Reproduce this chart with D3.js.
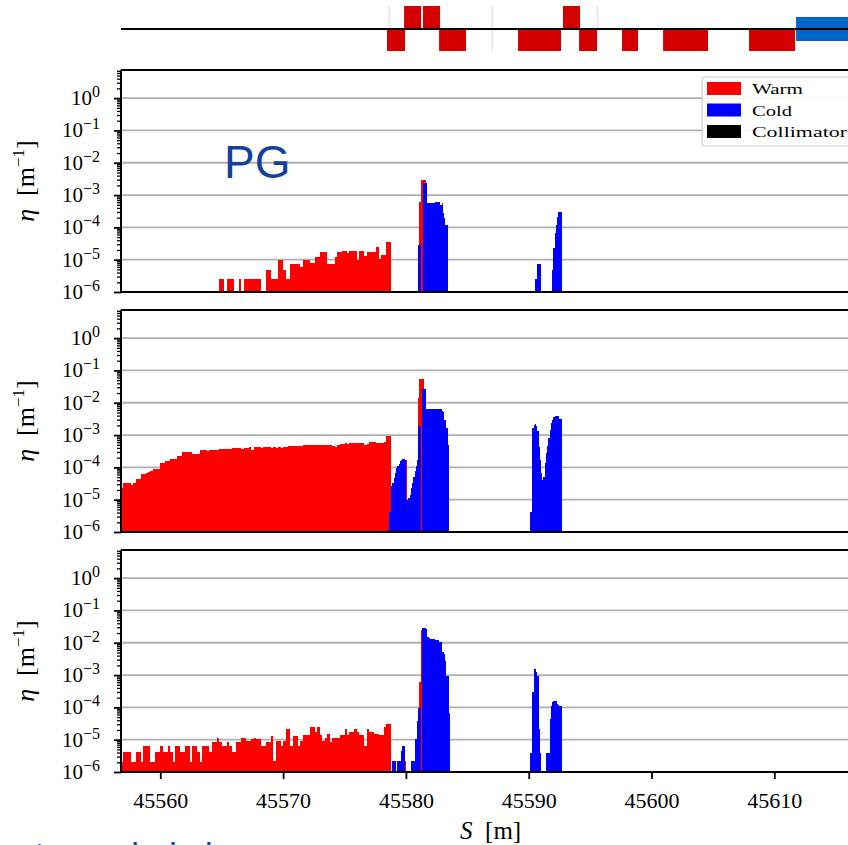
<!DOCTYPE html>
<html>
<head>
<meta charset="utf-8">
<script src="https://cdn.jsdelivr.net/npm/d3@7"></script>
<style>
  html, body { margin: 0; padding: 0; background: #fff; overflow: hidden; }
  svg { display: block; }
</style>
</head>
<body>
<svg id="chart" width="848" height="845"></svg>
<script>
// ---------------------------------------------------------------
// Loss maps: local cleaning inefficiency eta [1/m] along S [m]
// ---------------------------------------------------------------

// Histogram binning along S (metres)
const COARSE_BIN = 0.2;
const FINE_BIN = 0.1;
const warmStart = [45564.8, 45556.8, 45556.8];   // first warm coarse bin, per panel
const peakStart = 45578.6;                        // fine bins around the first cold section
const tailStart = 45590.1;                        // fine bins around the second cold section

// Axis ticks
const sTicks = [45560, 45570, 45580, 45590, 45600, 45610];
const decades = [-6, -5, -4, -3, -2, -1, 0];
const etaMin = 1e-6;
const etaMax = Math.pow(10, 0.87);

// ---- Panel 1 (PG) ----
const warm1 = [
  2.5e-6,2.5e-6,0,2.5e-6,2.5e-6,2.5e-6,0,0,2.5e-6,0,
  2.5e-6,2.5e-6,2.5e-6,2.5e-6,2.5e-6,2.5e-6,2.5e-6,0,0,4.8e-6,
  4.8e-6,2.5e-6,2.5e-6,2.5e-6,9.7e-6,9.7e-6,4.8e-6,2.5e-6,2.5e-6,7.2e-6,
  7.2e-6,7.2e-6,7.2e-6,5.8e-6,9.7e-6,9.7e-6,9.7e-6,7.7e-6,7.7e-6,1.18e-5,
  1.18e-5,1.73e-5,1.73e-5,1.73e-5,7.3e-6,7.3e-6,7.3e-6,1.18e-5,1.73e-5,1.73e-5,
  1.9e-5,1.9e-5,1.57e-5,1.85e-5,1.85e-5,1.85e-5,9.7e-6,1.9e-5,1.9e-5,1.3e-5,
  1.73e-5,1.73e-5,1.73e-5,1.73e-5,2.4e-5,1.02e-5,1.39e-5,1.39e-5,3.6e-5,3.6e-5
];
const warmPeak1 = [
  0,0,0,0,0,0,0,0,0,0,
  0,0,0,0,0,0,0,0,0,0,
  0,0,0,0,0,5.9e-4,2.9e-3,2.9e-3,2.9e-3,2.9e-3,
  0,0,0,0,0,0,0,0,0,0,
  0,0,0,5.6e-4,0,0,0,0,0,0
];
const coldPeak1 = [
  0,0,0,0,0,0,0,0,0,0,
  0,0,0,0,0,0,0,0,0,0,
  0,0,0,0,2.85e-5,2.85e-5,0,0,2.3e-3,2.3e-3,
  2.3e-3,5.8e-4,5.8e-4,5.8e-4,5.8e-4,5.8e-4,5.8e-4,5.8e-4,6.2e-4,6.2e-4,
  6.2e-4,6.2e-4,5.1e-4,5.1e-4,2.7e-4,1.9e-4,1.18e-4,1.18e-4,0,0
];
const coldTail1 = [
  0,0,0,0,2.5e-6,2.5e-6,7.2e-6,7.2e-6,7.2e-6,0,
  0,0,0,0,0,0,0,0,4.8e-6,2.35e-5,
  6.5e-5,1.18e-4,2.14e-4,2.9e-4,2.9e-4,2.9e-4
];

// ---- Panel 2 ----
const warm2 = [
  2.27e-5,3.24e-5,3.24e-5,3.24e-5,2.88e-5,3.4e-5,4.43e-5,4.43e-5,6.3e-5,6.3e-5,
  6.6e-5,6.97e-5,7.5e-5,8.8e-5,8.8e-5,8.8e-5,1.36e-4,1.36e-4,1.6e-4,1.6e-4,
  1.81e-4,1.81e-4,1.81e-4,2.29e-4,2.29e-4,2.91e-4,2.91e-4,2.91e-4,2.91e-4,2.58e-4,
  2.58e-4,2.58e-4,3.36e-4,3.36e-4,3.36e-4,3.28e-4,3.36e-4,3.36e-4,3.36e-4,3.52e-4,
  3.69e-4,3.69e-4,3.77e-4,3.77e-4,3.77e-4,3.86e-4,3.96e-4,3.96e-4,3.96e-4,3.69e-4,
  3.96e-4,3.96e-4,4.26e-4,3.36e-4,4.26e-4,4.26e-4,4.26e-4,4.05e-4,4.26e-4,4.15e-4,
  4.26e-4,4.05e-4,4.15e-4,4.05e-4,4.15e-4,4.05e-4,4.26e-4,4.36e-4,4.47e-4,4.47e-4,
  4.47e-4,4.58e-4,4.69e-4,4.69e-4,4.8e-4,4.92e-4,4.92e-4,5.04e-4,5.04e-4,5.04e-4,
  4.92e-4,4.92e-4,5.04e-4,4.92e-4,4.8e-4,4.92e-4,4.69e-4,4.15e-4,4.92e-4,5.28e-4,
  5.4e-4,5.67e-4,5.28e-4,5.67e-4,5.67e-4,5.81e-4,5.67e-4,5.67e-4,5.54e-4,4.92e-4,
  5.28e-4,6.24e-4,5.95e-4,5.95e-4,5.81e-4,5.81e-4,5.67e-4,5.95e-4,9.58e-4,9.58e-4
];
const warmPeak2 = [
  0,0,0,0,0,0,0,0,0,0,
  0,0,0,0,1.72e-4,0,0,0,0,0,
  0,0,0,0,1.42e-2,5.25e-2,5.25e-2,5.25e-2,5.25e-2,0,
  0,0,0,0,0,0,0,0,0,0,
  0,0,0,0,0,0,0,0,0,0
];
const coldPeak2 = [
  4.28e-6,4.28e-6,2.56e-5,3.4e-5,4.64e-5,6.6e-5,9.5e-5,1.12e-4,1.29e-4,1.53e-4,
  1.72e-4,1.81e-4,1.81e-4,1.72e-4,9.9e-6,9.9e-6,1.11e-5,1.41e-5,2.27e-5,3.24e-5,
  5.2e-5,7.5e-5,1.07e-4,1.72e-4,1.87e-3,1.87e-3,0,2.57e-2,2.57e-2,2.57e-2,
  6.45e-3,6.45e-3,6.45e-3,6.45e-3,6.45e-3,6.45e-3,6.45e-3,6.45e-3,6.45e-3,6.45e-3,
  6.45e-3,6.45e-3,6.45e-3,5.46e-3,5.08e-3,3.0e-3,3.0e-3,1.66e-3,5.0e-4,0
];
const coldTail2 = [
  4.28e-6,4.28e-6,1.66e-3,2.1e-3,2.2e-3,1.87e-3,1.31e-3,4.26e-4,1.72e-4,6.6e-5,
  4.12e-5,5.2e-5,1.36e-4,2.77e-4,4.47e-4,8.1e-4,1.47e-3,2.37e-3,3.0e-3,3.64e-3,
  3.82e-3,4.0e-3,4.0e-3,3.82e-3,3.15e-3,3.15e-3
];

// ---- Panel 3 ----
const warm3 = [
  2.1e-6,4.3e-6,4.3e-6,4.3e-6,2.1e-6,2.1e-6,4.3e-6,4.3e-6,2.1e-6,6.6e-6,
  6.6e-6,6.6e-6,2.1e-6,2.1e-6,4.3e-6,4.3e-6,6.6e-6,4.3e-6,4.3e-6,6.6e-6,
  4.3e-6,2.1e-6,6.6e-6,6.6e-6,4.3e-6,4.3e-6,6.6e-6,6.6e-6,2.1e-6,6.6e-6,
  6.6e-6,4.3e-6,2.1e-6,6.6e-6,6.6e-6,6.6e-6,4.3e-6,8.4e-6,8.4e-6,1.12e-5,
  8.4e-6,6.6e-6,6.6e-6,8.4e-6,6.6e-6,4.3e-6,4.3e-6,8.4e-6,8.4e-6,1.12e-5,
  1.12e-5,8.8e-6,8.8e-6,1.07e-5,1.12e-5,1.07e-5,1.07e-5,6.6e-6,6.6e-6,8.4e-6,
  8.4e-6,1.29e-5,2.25e-6,8.8e-6,8.8e-6,6.6e-6,8.8e-6,2.19e-5,2.19e-5,6.6e-6,
  1.29e-5,1.29e-5,6.6e-6,8.8e-6,1.35e-5,1.35e-5,1.35e-5,2.46e-5,2.46e-5,1.72e-5,
  2.46e-5,1.35e-5,8.8e-6,1.12e-5,1.53e-5,8.4e-6,1.12e-5,1.12e-5,1.12e-5,1.42e-5,
  1.42e-5,2.19e-5,1.42e-5,1.72e-5,1.72e-5,2.19e-5,1.72e-5,1.42e-5,1.42e-5,6.6e-6,
  2.19e-5,1.72e-5,1.72e-5,1.53e-5,1.53e-5,1.42e-5,1.42e-5,2.46e-5,3.05e-5,3.05e-5
];
const warmPeak3 = [
  0,0,0,0,0,0,0,0,0,0,
  0,0,0,2.15e-6,0,0,0,0,0,0,
  0,0,0,0,0,5.9e-4,2.41e-2,0,0,0,
  0,0,0,0,0,0,0,0,0,0,
  0,0,0,0,0,0,0,0,0,0
];
const coldPeak3 = [
  0,0,0,2.15e-6,2.15e-6,2.15e-6,0,2.15e-6,2.15e-6,2.15e-6,
  4.4e-6,6.3e-6,6.3e-6,0,0,0,0,0,2.15e-6,2.15e-6,
  2.15e-6,1.02e-5,1.02e-5,3.79e-5,9.9e-5,9.9e-5,0,2.92e-2,2.92e-2,2.92e-2,
  2.72e-2,1.49e-2,1.49e-2,1.39e-2,1.33e-2,1.33e-2,1.33e-2,1.26e-2,1.18e-2,1.18e-2,
  1.18e-2,1.09e-2,1.04e-2,5.1e-3,5.1e-3,4.5e-3,2.8e-3,9.6e-4,9.6e-4,6.9e-5
];
const coldTail3 = [
  3.9e-6,3.9e-6,2.9e-4,1.54e-3,1.54e-3,1.21e-3,9.6e-4,2.08e-5,3.9e-6,0,
  0,0,0,3.9e-6,3.9e-6,3.9e-6,4.27e-5,1.11e-4,1.48e-4,1.59e-4,
  1.59e-4,1.59e-4,1.25e-4,1.16e-4,1.11e-4,1.11e-4
];

// ---- Beam-line layout strip (element extents in S) ----
const elementsAbove = [[45579.85, 45581.23], [45581.39, 45582.78], [45592.79, 45594.18]];
const elementsBelow = [[45578.46, 45579.93], [45582.70, 45584.89], [45589.13, 45592.63],
                       [45594.10, 45595.56], [45597.60, 45598.90], [45600.94, 45604.60],
                       [45607.94, 45611.69]];
const elementsCentred = [[45611.77, 45620.0]];
const elementMarkers = [45578.62, 45587.01, 45595.56];

const legendItems = [
  { label: "Warm", color: "#ff0000" },
  { label: "Cold", color: "#0000ff" },
  { label: "Collimator", color: "#000000" }
];

// ---------------------------------------------------------------
const svg = d3.select("#chart");
const serif = "'Liberation Serif', 'DejaVu Serif', serif";
const sans = "'Liberation Sans', Arial, sans-serif";

const plotLeft = 121, plotRight = 860.3;
const x = d3.scaleLinear().domain([45556.8, 45617.0]).range([plotLeft, plotRight]);

const panelTops = [70, 310, 550];
const panelHeight = 222;

const panelData = [
  { warm: warm1, warmStart: warmStart[0], warmPeak: warmPeak1, coldPeak: coldPeak1, coldTail: coldTail1, label: "PG" },
  { warm: warm2, warmStart: warmStart[1], warmPeak: warmPeak2, coldPeak: coldPeak2, coldTail: coldTail2 },
  { warm: warm3, warmStart: warmStart[2], warmPeak: warmPeak3, coldPeak: coldPeak3, coldTail: coldTail3 }
];

function bins(values, start, width) {
  return values.map((v, i) => ({ s0: start + i * width, s1: start + (i + 1) * width, v }))
               .filter(d => d.v > etaMin);
}

function drawBars(g, y, data, color) {
  g.selectAll(null).data(data).enter().append("rect")
    .attr("x", d => x(d.s0))
    .attr("width", d => x(d.s1) - x(d.s0))
    .attr("y", d => y(d.v))
    .attr("height", d => y(etaMin) - y(d.v))
    .attr("fill", color)
    .attr("shape-rendering", "crispEdges");
}

const minorTicks = [];
decades.forEach(e => {
  for (let m = 2; m <= 9; m++) {
    const v = m * Math.pow(10, e);
    if (v < etaMax) minorTicks.push(v);
  }
});

panelData.forEach((p, idx) => {
  const top = panelTops[idx], bottom = top + panelHeight;
  const y = d3.scaleLog().domain([etaMin, etaMax]).range([bottom, top]);
  const g = svg.append("g");

  // horizontal grid at each decade
  g.selectAll(null).data(decades.filter(e => e > -6)).enter().append("line")
    .attr("x1", plotLeft).attr("x2", plotRight)
    .attr("y1", e => y(Math.pow(10, e))).attr("y2", e => y(Math.pow(10, e)))
    .attr("stroke", "#b0b0b0").attr("stroke-width", 1.8);

  // histograms: warm first, cold on top
  drawBars(g, y, bins(p.warm, p.warmStart, COARSE_BIN), "#ff0000");
  drawBars(g, y, bins(p.warmPeak, peakStart, FINE_BIN), "#ff0000");
  drawBars(g, y, bins(p.coldPeak, peakStart, FINE_BIN), "#0000ff");
  drawBars(g, y, bins(p.coldTail, tailStart, FINE_BIN), "#0000ff");

  // y axis ticks
  const majorAxis = d3.axisLeft(y).tickValues(decades.map(e => Math.pow(10, e)))
    .tickSize(7).tickFormat("");
  const minorAxis = d3.axisLeft(y).tickValues(minorTicks).tickSize(4).tickFormat("");
  [majorAxis, minorAxis].forEach((ax, k) => {
    const ag = g.append("g").attr("transform", `translate(${plotLeft},0)`).call(ax);
    ag.select(".domain").remove();
    ag.selectAll(".tick line").attr("stroke", "#000").attr("stroke-width", k === 0 ? 1.8 : 1.3);
  });

  // tick labels 10^e
  decades.forEach(e => {
    const t = g.append("text")
      .attr("x", 100).attr("y", y(Math.pow(10, e)) + 7)
      .attr("text-anchor", "end")
      .style("font-family", serif).style("font-size", "21px").attr("fill", "#000")
      .text("10");
    t.append("tspan").attr("dy", -8).style("font-size", "16px")
      .text(e === 0 ? "0" : "\u2212" + (-e));
  });

  // y axis title
  const yl = g.append("text")
    .attr("transform", `translate(34,${(top + bottom) / 2}) rotate(-90)`)
    .attr("text-anchor", "middle")
    .style("font-family", serif).style("font-size", "26px").attr("fill", "#000");
  yl.append("tspan").style("font-style", "italic").text("\u03B7");
  yl.append("tspan").text("\u2002[m");
  yl.append("tspan").attr("dy", -10).style("font-size", "17px").text("\u22121");
  yl.append("tspan").attr("dy", 10).text("]");

  // spines
  g.append("line").attr("x1", plotLeft).attr("x2", plotLeft).attr("y1", top).attr("y2", bottom)
    .attr("stroke", "#000").attr("stroke-width", 2);
  g.append("line").attr("x1", plotLeft).attr("x2", plotRight).attr("y1", top).attr("y2", top)
    .attr("stroke", "#000").attr("stroke-width", 2);
  g.append("line").attr("x1", plotLeft).attr("x2", plotRight).attr("y1", bottom).attr("y2", bottom)
    .attr("stroke", "#000").attr("stroke-width", 2);

  if (p.label) {
    g.append("text").attr("x", 224).attr("y", top + 108)
      .style("font-family", sans).style("font-size", "46px").attr("fill", "#1040a0")
      .text(p.label);
  }

  if (idx === 0) {
    // legend
    const lg = g.append("g");
    lg.append("rect").attr("x", 702).attr("y", top + 7).attr("width", 160).attr("height", 69)
      .attr("rx", 3).attr("fill", "#fff").attr("fill-opacity", 0.9)
      .attr("stroke", "#cccccc").attr("stroke-width", 1.2);
    const widths = [51, 40, 95];
    legendItems.forEach((it, k) => {
      const yy = top + 12 + k * 21.5;
      lg.append("rect").attr("x", 707).attr("y", yy).attr("width", 34).attr("height", 13)
        .attr("fill", it.color);
      lg.append("text").attr("x", 752).attr("y", yy + 12)
        .attr("textLength", widths[k]).attr("lengthAdjust", "spacingAndGlyphs")
        .style("font-family", serif).style("font-size", "15px").attr("fill", "#000")
        .text(it.label);
    });
  }

  if (idx === panelData.length - 1) {
    const xAxis = d3.axisBottom(x).tickValues(sTicks).tickSize(7).tickFormat(d3.format("d"));
    const ag = g.append("g").attr("transform", `translate(0,${bottom})`).call(xAxis);
    ag.select(".domain").remove();
    ag.selectAll(".tick line").attr("stroke", "#000").attr("stroke-width", 1.8);
    ag.selectAll(".tick text").attr("y", 20).attr("dy", 0)
      .style("font-family", serif).style("font-size", "22px").attr("fill", "#000")
      .attr("dominant-baseline", "hanging");
    const xl = g.append("text").attr("x", (plotLeft + plotRight) / 2).attr("y", bottom + 67)
      .attr("text-anchor", "middle")
      .style("font-family", serif).style("font-size", "25px").attr("fill", "#000");
    xl.append("tspan").style("font-style", "italic").text("S");
    xl.append("tspan").text("\u2002[m]");
  }
});

// ---- layout strip ----
const strip = svg.append("g");
const stripAxis = 29;
strip.selectAll(null).data(elementMarkers).enter().append("rect")
  .attr("x", d => x(d) - 1).attr("width", 2.5).attr("y", 6).attr("height", 45)
  .attr("fill", "#eeeeee");
strip.selectAll(null).data(elementsAbove).enter().append("rect")
  .attr("x", d => x(d[0])).attr("width", d => x(d[1]) - x(d[0]))
  .attr("y", 6).attr("height", stripAxis - 6).attr("fill", "#d40000");
strip.selectAll(null).data(elementsBelow).enter().append("rect")
  .attr("x", d => x(d[0])).attr("width", d => x(d[1]) - x(d[0]))
  .attr("y", stripAxis).attr("height", 22).attr("fill", "#d40000");
strip.selectAll(null).data(elementsCentred).enter().append("rect")
  .attr("x", d => x(d[0])).attr("width", d => x(d[1]) - x(d[0]))
  .attr("y", 17).attr("height", 24).attr("fill", "#0066cc");
strip.append("line").attr("x1", plotLeft).attr("x2", plotRight)
  .attr("y1", stripAxis).attr("y2", stripAxis).attr("stroke", "#000").attr("stroke-width", 2);

// caption line running below the figure
svg.append("text").attr("x", 18).attr("y", 866)
  .style("font-family", sans).style("font-size", "34px").attr("fill", "#1040a0")
  .text("stream halo loss");
</script>
</body>
</html>
